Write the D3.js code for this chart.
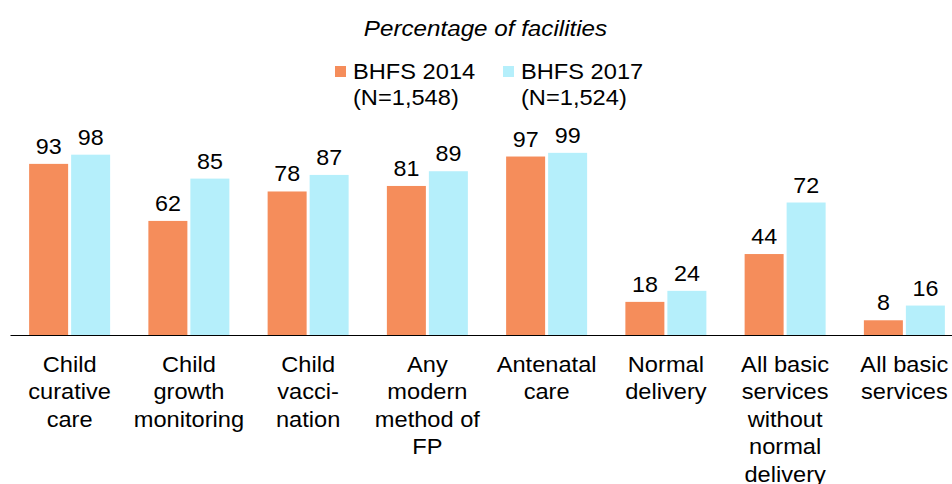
<!DOCTYPE html>
<html>
<head>
<meta charset="utf-8">
<script src="https://cdn.jsdelivr.net/npm/d3@7"></script>
<style>
  html, body { margin: 0; padding: 0; background: #fff; }
  svg { display: block; font-family: "Liberation Sans", Arial, sans-serif; }
</style>
</head>
<body>
<svg id="chart" width="952" height="484"></svg>
<script>
const categories = [
  "Child curative care",
  "Child growth monitoring",
  "Child vaccination",
  "Any modern method of FP",
  "Antenatal care",
  "Normal delivery",
  "All basic services without normal delivery",
  "All basic services"
];
const categoryLines = [
  ["Child", "curative", "care"],
  ["Child", "growth", "monitoring"],
  ["Child", "vacci-", "nation"],
  ["Any", "modern", "method of", "FP"],
  ["Antenatal", "care"],
  ["Normal", "delivery"],
  ["All basic", "services", "without", "normal", "delivery"],
  ["All basic", "services"]
];
const seriesNames = ["BHFS 2014", "BHFS 2017"];
const seriesSubtitles = ["(N=1,548)", "(N=1,524)"];
const values2014 = [93, 62, 78, 81, 97, 18, 44, 8];
const values2017 = [98, 85, 87, 89, 99, 24, 72, 16];
const colors = ["#F58D5B", "#B5EFFB"];
const title = "Percentage of facilities";

const svg = d3.select("#chart");
const SX = 1.075;

function addText(parent, x, y, str, opts = {}) {
  const g = parent.append("g")
    .attr("transform", `translate(${x},${y}) scale(${opts.sx || SX},1)`);
  const t = g.append("text")
    .attr("x", 0).attr("y", 0)
    .attr("font-size", opts.size || 22)
    .attr("fill", "#000")
    .attr("text-anchor", opts.anchor || "start");
  if (opts.italic) t.attr("font-style", "italic");
  if (Array.isArray(str)) {
    t.selectAll("tspan").data(str).join("tspan")
      .attr("x", 0)
      .attr("dy", (l, j) => j === 0 ? 0 : (opts.lh || 27.5))
      .text(l => l);
  } else {
    t.text(str);
  }
  return g;
}

const x = d3.scaleBand().domain(categories).range([10, 964]).padding(0);
const bw = x.bandwidth();
const xInner = d3.scaleBand().domain(seriesNames)
  .range([bw / 2 - 40.5, bw / 2 + 40.5]).paddingInner(2 - 81 / 42).paddingOuter(0);
const y = d3.scaleLinear().domain([0, 100]).range([335, 151]);

const series = [values2014, values2017];

// title
addText(svg, 485.5, 36, title, { anchor: "middle", italic: true, sx: 1.1 });

// legend
const legendX = [335, 503];
seriesNames.forEach((name, i) => {
  const g = svg.append("g").attr("transform", `translate(${legendX[i]},0)`);
  g.append("rect").attr("x", 0).attr("y", 66).attr("width", 11).attr("height", 11).attr("fill", colors[i]);
  addText(g, 18, 79, name);
  addText(g, 18, 105, seriesSubtitles[i]);
});

// bars
const groups = svg.append("g").selectAll("g")
  .data(categories)
  .join("g")
  .attr("transform", d => `translate(${x(d)},0)`);

groups.each(function(cat, ci) {
  const g = d3.select(this);
  series.forEach((vals, si) => {
    const v = vals[ci];
    const bx = xInner(seriesNames[si]);
    g.append("rect")
      .attr("x", bx).attr("y", y(v))
      .attr("width", xInner.bandwidth())
      .attr("height", y(0) - y(v))
      .attr("fill", colors[si]);
    addText(g, bx + xInner.bandwidth() / 2, y(v) - 10, String(v), { anchor: "middle", sx: 1.06 });
  });
});

// axis
const axis = d3.axisBottom(x).tickSize(0).tickFormat("");
const axisG = svg.append("g").attr("transform", `translate(0,${y(0)})`).call(axis);
axisG.select(".domain").attr("stroke", "#000").attr("stroke-width", 1.2);

// category labels
const labelsG = svg.append("g");
categories.forEach((d, i) => {
  addText(labelsG, x(d) + bw / 2, 372, categoryLines[i], { anchor: "middle" });
});
</script>
</body>
</html>
